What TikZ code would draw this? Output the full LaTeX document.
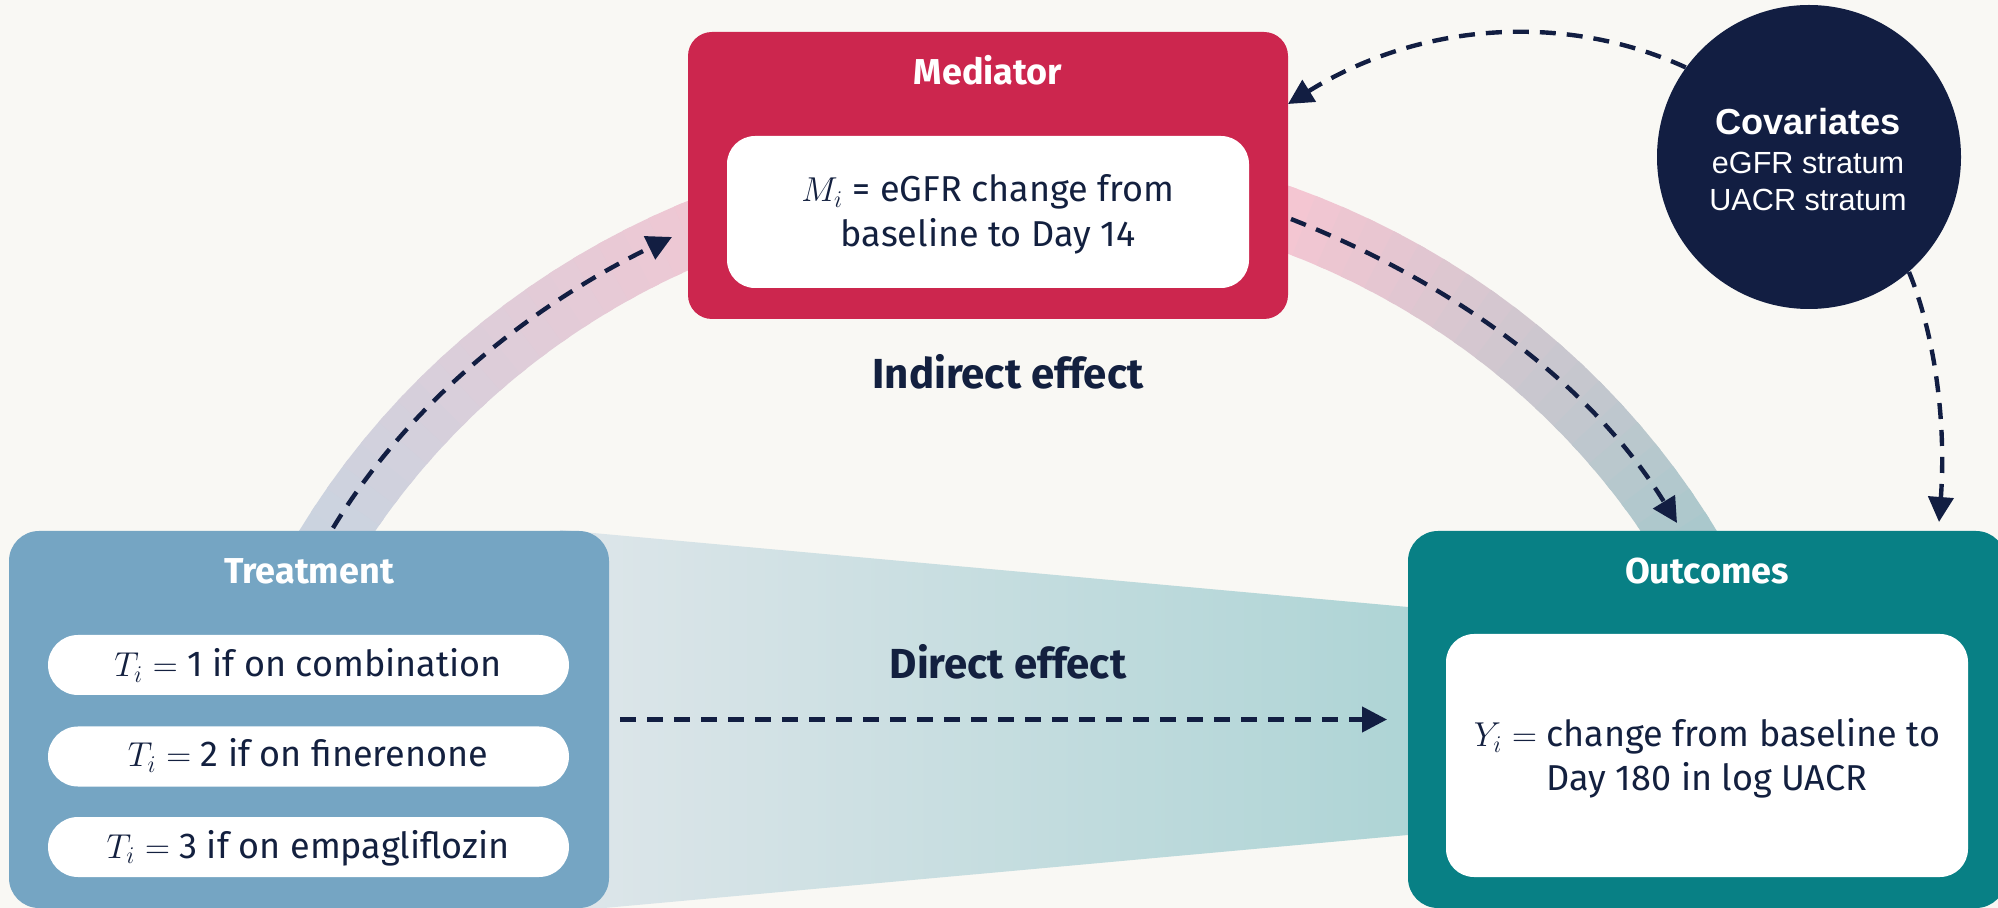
\documentclass[tikz,border=0pt]{standalone}
\usepackage{fontspec}
\setmainfont{Fira Sans}
\newfontfamily\arialf{Liberation Sans}
\usetikzlibrary{arrows.meta}

\definecolor{bgc}{HTML}{F9F8F4}
\definecolor{medred}{HTML}{CC264E}
\definecolor{trtblue}{HTML}{75A5C3}
\definecolor{outteal}{HTML}{088085}
\definecolor{navy}{HTML}{121E42}
\definecolor{ink}{HTML}{13203F}
\definecolor{bandL}{HTML}{CBD3DF}
\definecolor{bandP}{HTML}{F4C6D2}
\definecolor{bandR}{HTML}{A8C8CC}
\definecolor{wedgeL}{HTML}{DEE6EA}
\definecolor{wedgeR}{HTML}{ADD4D5}

\begin{document}
\begin{tikzpicture}[x=0.5pt,y=-0.5pt,
  panel/.style={inner sep=0pt, outer sep=0pt, draw=none},
  bigbox/.style={panel, rounded corners=15pt, minimum width=300pt, minimum height=188.5pt},
  whitebox/.style={panel, fill=white, rounded corners=14pt},
  pill/.style={panel, fill=white, rounded corners=15pt, minimum width=260.5pt, minimum height=30pt},
  headtxt/.style={inner sep=0pt, anchor=base, text=white, font=\bfseries\fontsize{18}{22}\selectfont},
  bodytxt/.style={inner sep=0pt, anchor=base, text=ink, font=\fontsize{18}{22}\selectfont},
  efftxt/.style={inner sep=0pt, anchor=base, text=ink, font=\bfseries\fontsize{21}{25}\selectfont},
  covhead/.style={inner sep=0pt, anchor=base, text=white, font=\arialf\bfseries\fontsize{18.1}{21}\selectfont},
  covtxt/.style={inner sep=0pt, anchor=base, text=white, font=\arialf\fontsize{15.3}{18}\selectfont},
  dasharrow/.style={draw=navy, line width=2.2pt, dash pattern=on 8pt off 5.5pt,
                    -{Triangle[length=12.5pt,width=12.5pt]}},
  bandseg/.style={line width=32pt, line cap=butt}
]
\useasboundingbox (0,0) rectangle (1998,908);
\clip (0,0) rectangle (1998,908);
\fill[bgc] (0,0) rectangle (1998,908);

% centre of the curved band that links the three boxes
\coordinate (hub) at (1008,934);

% curved band: blue-grey -> pink on the left, pink -> teal-grey on the right
\foreach \a in {200,202,...,270}{
  \pgfmathtruncatemacro\p{max(0,min(100,(\a-211)*100/39))}
  \pgfmathsetmacro\e{\a+2.6}
  \draw[bandseg, color=bandP!\p!bandL] (hub) ++(\a:790 and 764)
    arc[start angle=\a, end angle=\e, x radius=790, y radius=764];
}
\foreach \a in {270,272,...,340}{
  \pgfmathtruncatemacro\q{max(0,min(100,(\a-290)*100/39))}
  \pgfmathsetmacro\e{\a+2.6}
  \draw[bandseg, color=bandR!\q!bandP] (hub) ++(\a:790 and 764)
    arc[start angle=\a, end angle=\e, x radius=790, y radius=764];
}

% wedge for the direct effect
\shade[left color=wedgeL, right color=wedgeR]
  (560,530) -- (1430,609) -- (1430,833) -- (560,912) -- cycle;

% Mediator
\node[panel, fill=medred, rounded corners=12pt, minimum width=300pt, minimum height=143.5pt] (med) at (988,175.5) {};
\node[whitebox, minimum width=261pt, minimum height=76pt] (medin) at (988,212) {};
\node[headtxt] (medT) at (988,85) {Mediator};
\node[bodytxt] (medL1) at (988,202) {$M_i$ = eGFR change from};
\node[bodytxt] (medL2) at (988,247) {baseline to Day 14};

% Treatment
\node[bigbox, fill=trtblue] (trt) at (309,719.5) {};
\node[headtxt] (trtT) at (309,584) {Treatment};
\node[pill] (p1) at (308.5,665) {};
\node[pill] (p2) at (308.5,756.5) {};
\node[pill] (p3) at (308.5,847) {};
\node[bodytxt] (p1t) at (308,677) {$T_i =$ 1 if on combination};
\node[bodytxt] (p2t) at (308,767) {$T_i =$ 2 if on finerenone};
\node[bodytxt] (p3t) at (308,858) {$T_i =$ 3 if on empagliflozin};

% Outcomes
\node[bigbox, fill=outteal, minimum width=299pt] (out) at (1707,719.5) {};
\node[whitebox, minimum width=261pt, minimum height=121.5pt] (outin) at (1707,755.5) {};
\node[headtxt] (outT) at (1707,584) {Outcomes};
\node[bodytxt] (outL1) at (1707,747) {$Y_i =$ change from baseline to};
\node[bodytxt] (outL2) at (1707,791) {Day 180 in log UACR};

% Covariates
\node[circle, fill=navy, minimum size=152pt, inner sep=0pt] (cov) at (1809,157) {};
\node[covhead] (covT) at (1808,135) {Covariates};
\node[covtxt] (covL1) at (1808,174) {eGFR stratum};
\node[covtxt] (covL2) at (1808,211) {UACR stratum};

% effect labels
\node[efftxt] (indir) at (1008,389) {Indirect effect};
\node[efftxt] (dir) at (1008,679) {Direct effect};

% connector end points
\coordinate (trtArc) at (333,528);
\coordinate (medArcIn) at (672,237);
\coordinate (medArcOut) at (1291,219);
\coordinate (outArc) at (1677,523);
\coordinate (medSide) at (1288,104);
\coordinate (outTop) at (1939,522);

% dashed connectors
\draw[dasharrow] (trtArc) .. controls (411,399) and (536,303) .. (medArcIn);
\draw[dasharrow] (medArcOut) .. controls (1448,281) and (1589,380) .. (outArc);
\draw[dasharrow, shorten <=5.5pt, shorten >=10.5pt] (trt.east) -- (out.west);
\draw[dasharrow] (cov.144) .. controls (1565,12) and (1420,22) .. (medSide);
\draw[dasharrow] (cov.311) .. controls (1937,340) and (1946,430) .. (outTop);
\end{tikzpicture}
\end{document}
